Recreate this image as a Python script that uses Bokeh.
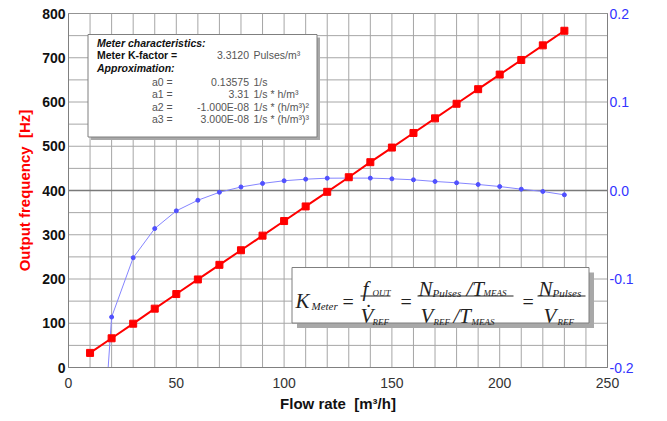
import math
from bokeh.plotting import figure
from bokeh.models import (Range1d, LinearAxis, FixedTicker, BoxAnnotation, Label,
                          PrintfTickFormatter)
from bokeh.embed import file_html
from bokeh.resources import INLINE

# ---------------- data ----------------
flow = [10, 20, 30, 40, 50, 60, 70, 80, 90, 100, 110, 120, 130, 140, 150, 160,
        170, 180, 190, 200, 210, 220, 230]
frequency = [33, 66, 99, 133, 166, 199, 232, 265, 298, 331, 364, 397, 430, 464,
             497, 530, 563, 596, 629, 662, 695, 728, 761]
err_flow = [10, 20, 30, 40, 50, 60, 70, 80, 90, 100, 110, 120, 130, 140, 150,
            160, 170, 180, 190, 200, 210, 220, 230]
lin_err = [-0.50, -0.143, -0.076, -0.043, -0.023, -0.011, -0.002, 0.004, 0.008,
           0.011, 0.0128, 0.0139, 0.014, 0.014, 0.0132, 0.0121, 0.0102, 0.0087,
           0.0068, 0.0045, 0.0015, -0.0011, -0.0049]
x_ticks = [0, 50, 100, 150, 200, 250]
x_minor = list(range(0, 251, 10))
y_ticks = [0, 100, 200, 300, 400, 500, 600, 700, 800]
y_minor = list(range(0, 801, 50))
err_ticks = [-0.2, -0.1, 0.0, 0.1, 0.2]

# ---------------- layout ----------------
W, H = 667, 421
BL, BT = 68, 13
FW, FH = 539, 354
BR = W - BL - FW
BB = H - BT - FH
XMIN, XMAX = 0, 250
YMIN, YMAX = 0, 800
EMIN, EMAX = -0.2, 0.2


def px(x_page):
    return (x_page - BL) / FW * (XMAX - XMIN) + XMIN


def py(y_page):
    return (BT + FH - y_page) / FH * (YMAX - YMIN) + YMIN


p = figure(width=W, height=H, x_range=Range1d(XMIN, XMAX), y_range=Range1d(YMIN, YMAX),
           output_backend="svg", toolbar_location=None,
           min_border_left=BL, min_border_right=BR, min_border_top=BT, min_border_bottom=BB)
p.extra_y_ranges = {"err": Range1d(EMIN, EMAX)}
p.background_fill_color = "white"
p.border_fill_color = "white"
p.outline_line_color = "#808080"
p.outline_line_width = 1

SANS = "Liberation Sans"
SERIF = "Liberation Serif"

# grid: light lines every 10 (x) and every 50 (y), drawn from the tick lists
GRID = "#a6a6a6"
p.xgrid.grid_line_color = None
p.ygrid.grid_line_color = None
p.segment(x0=x_minor, y0=[YMIN] * len(x_minor), x1=x_minor, y1=[YMAX] * len(x_minor),
          line_color=GRID, line_width=1, line_alpha=1.0)
p.segment(x0=[XMIN] * len(y_minor), y0=y_minor, x1=[XMAX] * len(y_minor), y1=y_minor,
          line_color=GRID, line_width=1, line_alpha=1.0)
# zero line of the linearity-error axis
p.segment(x0=[XMIN], y0=[0.0], x1=[XMAX], y1=[0.0], y_range_name="err",
          line_color="#7a7a7a", line_width=1.5)

p.xaxis.ticker = FixedTicker(ticks=x_ticks)
p.yaxis.ticker = FixedTicker(ticks=y_ticks)

# axes
for ax in (p.xaxis[0], p.yaxis[0]):
    ax.axis_line_color = "#808080"
    ax.major_tick_line_color = None
    ax.minor_tick_line_color = None
    ax.major_tick_out = 0
    ax.major_label_text_font = SANS
    ax.major_label_text_font_size = "14px"
    ax.axis_label_text_font = SANS
    ax.axis_label_text_font_size = "15px"
    ax.axis_label_text_font_style = "bold"

p.xaxis.axis_label = "Flow rate \u00a0[m³/h]"
p.xaxis.axis_label_text_color = "#111111"
p.xaxis.major_label_text_color = "#333333"
p.xaxis.major_label_standoff = 10
p.xaxis.axis_label_standoff = 4

p.yaxis.axis_label = "Output frequency \u00a0[Hz]"
p.yaxis.axis_label_text_color = "#ff0000"
p.yaxis.major_label_text_color = "#111111"
p.yaxis.major_label_text_font_style = "bold"
p.yaxis.major_label_standoff = 3
p.yaxis.axis_label_standoff = 6

raxis = LinearAxis(y_range_name="err", ticker=FixedTicker(ticks=err_ticks),
                   formatter=PrintfTickFormatter(format="%.1f"))
raxis.axis_line_color = "#808080"
raxis.major_tick_line_color = None
raxis.minor_tick_line_color = None
raxis.major_tick_out = 0
raxis.major_label_standoff = 2
raxis.major_label_text_font = SANS
raxis.major_label_text_font_size = "14px"
raxis.major_label_text_color = "#3333ff"
p.add_layout(raxis, "right")

# series
p.line(err_flow, lin_err, y_range_name="err", line_color="#8585ff", line_width=1)
p.scatter(err_flow, lin_err, y_range_name="err", marker="circle", size=4,
          fill_color="#5050ff", line_color="#5050ff")
p.line(flow, frequency, line_color="#ff0000", line_width=2)
p.scatter(flow, frequency, marker="square", size=7, fill_color="#ff0000",
          line_color="#ff0000")


# ---------------- annotations ----------------
def lab(x, y, text, font=SANS, size="10.5px", style="normal", color="#555555",
        align="left", baseline="middle", angle=0.0):
    p.add_layout(Label(x=px(x), y=py(y), text=text, text_font=font,
                       text_font_size=size, text_font_style=style, text_color=color,
                       text_align=align, text_baseline=baseline, angle=angle))


# right axis title (reads bottom to top)
lab(659, 190, "Linearity error [%]", size="15px", style="bold italic",
    color="#2222ee", align="center", angle=math.pi / 2)


def box(l, t, r, b, shadow):
    sh = BoxAnnotation(left=px(l + shadow), right=px(r + shadow), top=py(t + shadow),
                       bottom=py(b + shadow), fill_color="#a8a8a8", fill_alpha=1,
                       line_color=None)
    bx = BoxAnnotation(left=px(l), right=px(r), top=py(t), bottom=py(b),
                       fill_color="white", fill_alpha=1, line_color="#7f7f7f",
                       line_alpha=1, line_width=1)
    p.add_layout(sh)
    p.add_layout(bx)


box(87.5, 34, 316.5, 136.5, 3)
lab(96.5, 42, "Meter characteristics:", style="bold italic", color="#111111")
lab(96.5, 54.5, "Meter K-factor =", style="bold", color="#111111")
lab(96.5, 67.5, "Approximation:", style="bold italic", color="#111111")
rows_l = ["a0 =", "a1 =", "a2 =", "a3 ="]
rows_v = ["0.13575", "3.31", "-1.000E-08", "3.000E-08"]
rows_u = ["1/s", "1/s * h/m³", "1/s * (h/m³)²", "1/s * (h/m³)³"]
lab(248.5, 54.5, "3.3120", align="right")
lab(253, 54.5, "Pulses/m³")
for i in range(4):
    yy = 81 + i * 12.6
    lab(151.5, yy, rows_l[i])
    lab(248.5, yy, rows_v[i], align="right")
    lab(253, yy, rows_u[i])

# formula box
box(291.5, 267, 588.5, 322.5, 5)
BIG = "21px"
SUB = "11px"
CAP = "9px"
FC = "#222222"


def ft(x, y, text, size=BIG, style="italic"):
    lab(x, y, text, font=SERIF, size=size, style=style, color=FC, baseline="alphabetic")


def frac_line(x0, x1, y):
    p.segment(x0=[px(x0)], y0=[py(y)], x1=[px(x1)], y1=[py(y)], line_color=FC,
              line_width=1, level="overlay")


ft(295, 300, "K")
ft(311, 305, "Meter", size=SUB)
ft(342, 301, "=", size="20px", style="normal")
frac_line(360, 390, 295.5)
ft(362, 288, "f")
ft(372, 292, "OUT", size=CAP)
ft(360, 315, "V\u0307")
ft(372, 321, "REF", size=CAP)
ft(400, 301, "=", size="20px", style="normal")
frac_line(417, 513, 295.5)
ft(418, 288, "N")
ft(432, 292, "Pulses", size=SUB)
ft(466, 288, "/T")
ft(483, 292, "MEAS", size=CAP)
ft(420, 315, "V")
ft(433, 321, "REF", size=CAP)
ft(453, 315, "/T")
ft(471, 321, "MEAS", size=CAP)
ft(522, 301, "=", size="20px", style="normal")
frac_line(537, 585, 295.5)
ft(538, 288, "N")
ft(552, 292, "Pulses", size=SUB)
ft(543, 315, "V")
ft(557, 321, "REF", size=CAP)

open("out.html", "w").write(file_html(p, INLINE))
